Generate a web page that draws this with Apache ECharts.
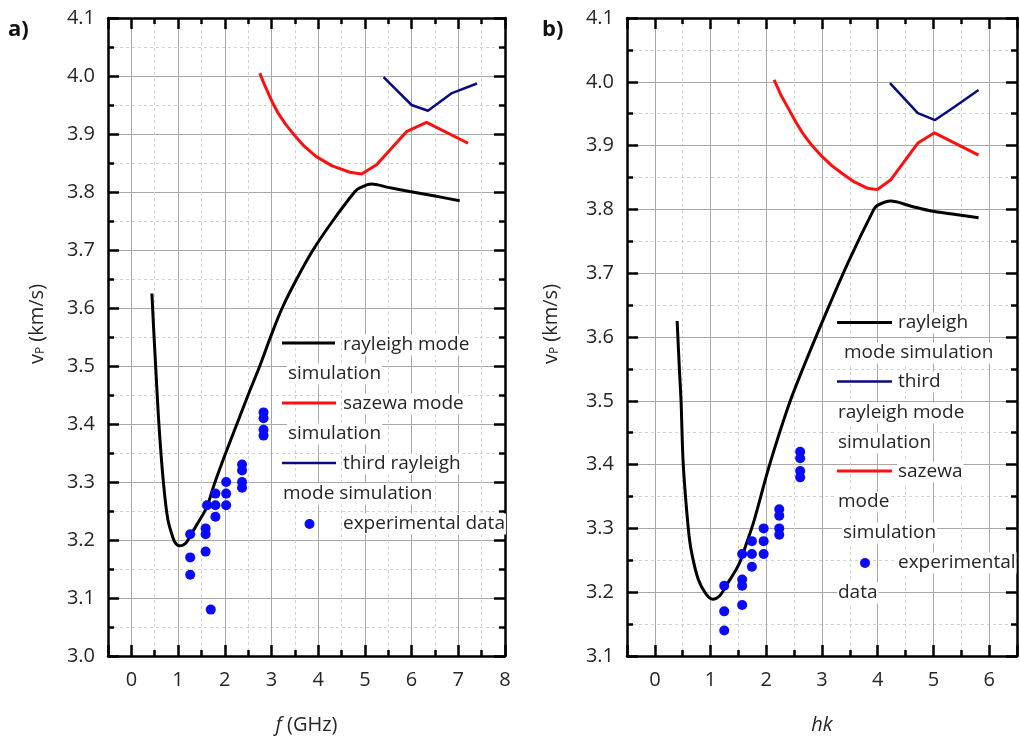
<!DOCTYPE html>
<html><head><meta charset="utf-8">
<script src="https://cdn.jsdelivr.net/npm/echarts@6/dist/echarts.min.js"></script>
<style>html,body{margin:0;padding:0;background:#fff}#c{width:1020px;height:740px}</style>
</head><body><div id="c"></div>
<script>
// ---------- Panel a (x = f in GHz) ----------
const rayA_f = [0.44, 0.48, 0.52, 0.59, 0.68, 0.78, 0.89, 0.96, 1.03, 1.10, 1.18, 1.28, 1.43, 1.61, 1.77, 2.02, 2.26, 2.50, 2.75, 2.98, 3.23, 3.54, 3.89, 4.31, 4.78, 4.89, 5.14, 5.50, 5.96, 6.50, 7.03];
const rayA_v = [3.625, 3.56, 3.50, 3.40, 3.305, 3.236, 3.204, 3.193, 3.190, 3.191, 3.196, 3.210, 3.230, 3.256, 3.295, 3.35, 3.40, 3.45, 3.50, 3.55, 3.60, 3.65, 3.70, 3.75, 3.80, 3.807, 3.814, 3.808, 3.801, 3.793, 3.785];
const sazA_f = [2.75, 2.85, 2.95, 3.03, 3.15, 3.30, 3.46, 3.70, 3.96, 4.30, 4.68, 4.93, 5.25, 5.89, 6.32, 7.21];
const sazA_v = [4.005, 3.985, 3.967, 3.953, 3.935, 3.917, 3.901, 3.879, 3.861, 3.845, 3.834, 3.831, 3.847, 3.904, 3.920, 3.884];
const thrA_f = [5.40, 6.00, 6.35, 6.85, 7.40];
const thrA_v = [3.998, 3.950, 3.940, 3.970, 3.987];
const expA_f = [1.26, 1.26, 1.26, 1.59, 1.59, 1.59, 1.62, 1.70, 1.80, 1.80, 1.80, 2.03, 2.03, 2.03, 2.37, 2.37, 2.37, 2.37, 2.83, 2.83, 2.83, 2.83];
const expA_v = [3.21, 3.17, 3.14, 3.22, 3.21, 3.18, 3.26, 3.08, 3.28, 3.26, 3.24, 3.30, 3.28, 3.26, 3.33, 3.32, 3.30, 3.29, 3.42, 3.41, 3.39, 3.38];

// ---------- Panel b (x = hk) ----------
const rayB_hk = [0.40, 0.44, 0.47, 0.51, 0.60, 0.66, 0.78, 0.92, 1.04, 1.16, 1.30, 1.51, 1.65, 1.77, 2.06, 2.39, 2.65, 3.06, 3.47, 3.93, 3.99, 4.23, 4.60, 4.99, 5.40, 5.81];
const rayB_v = [3.625, 3.55, 3.50, 3.40, 3.30, 3.262, 3.220, 3.197, 3.189, 3.194, 3.213, 3.244, 3.278, 3.309, 3.40, 3.49, 3.549, 3.635, 3.717, 3.80, 3.806, 3.813, 3.805, 3.797, 3.792, 3.787];
const sazB_hk = [2.14, 2.27, 2.41, 2.53, 2.65, 2.82, 3.00, 3.17, 3.35, 3.58, 3.82, 3.99, 4.23, 4.72, 5.02, 5.81];
const sazB_v = [4.003, 3.978, 3.956, 3.937, 3.920, 3.900, 3.883, 3.869, 3.857, 3.843, 3.833, 3.831, 3.846, 3.904, 3.920, 3.885];
const thrB_hk = [4.22, 4.72, 5.03, 5.40, 5.81];
const thrB_v = [3.998, 3.951, 3.940, 3.962, 3.987];
const expB_hk = [1.245, 1.245, 1.245, 1.567, 1.567, 1.567, 1.567, 1.742, 1.742, 1.742, 1.953, 1.953, 1.953, 2.233, 2.233, 2.233, 2.233, 2.608, 2.608, 2.608, 2.608];
const expB_v = [3.21, 3.17, 3.14, 3.26, 3.22, 3.21, 3.18, 3.28, 3.26, 3.24, 3.30, 3.28, 3.26, 3.33, 3.32, 3.30, 3.29, 3.42, 3.41, 3.39, 3.38];

// legend / titles text
const legendA = ['rayleigh mode', 'simulation', 'sazewa mode', 'simulation', 'third rayleigh', 'mode simulation', 'experimental data'];
const legendB = ['rayleigh', 'mode simulation', 'third', 'rayleigh mode', 'simulation', 'sazewa', 'mode', 'simulation', 'experimental', 'data'];

const FONT = "'Open Sans', 'Noto Sans', sans-serif";
const BLACK = '#000000', RED = '#ff1010', NAVY = '#0a0a85', BLUE = '#0a0aff';
const GRIDC = '#a8a8a8', MINORC = '#d2d2d2';
const TXT = '#262626';

function pairs(xs, ys) { return xs.map((x, i) => [x, ys[i]]); }
function tk() { return { color: '#000', width: 2.5 }; }

function xAxes(gi, min, max, name) {
  return [
    { type: 'value', gridIndex: gi, position: 'bottom', min: min, max: max, interval: 0.5,
      axisLine: { show: false, onZero: false },
      axisTick: { show: true, inside: true, length: 6, lineStyle: tk() },
      axisLabel: { show: false },
      splitLine: { show: true, lineStyle: { color: MINORC, width: 1, type: [3, 3] } } },
    { type: 'value', gridIndex: gi, position: 'top', min: min, max: max, interval: 0.5,
      axisLine: { show: false, onZero: false },
      axisTick: { show: true, inside: true, length: 6, lineStyle: tk() },
      axisLabel: { show: false }, splitLine: { show: false } },
    { type: 'value', gridIndex: gi, position: 'bottom', min: min, max: max, minInterval: 1, maxInterval: 1, splitNumber: 8,
      axisLine: { show: true, onZero: false, lineStyle: tk() },
      axisTick: { show: true, inside: true, length: 11, lineStyle: tk() },
      axisLabel: { show: true, margin: 14, fontSize: 20, fontFamily: FONT, color: TXT,
        formatter: v => (Math.abs(v - Math.round(v)) < 1e-6 ? String(Math.round(v)) : '') },
      splitLine: { show: true, lineStyle: { color: GRIDC, width: 1 } },
      name: name, nameLocation: 'middle', nameGap: 59,
      nameTextStyle: { fontSize: 20, fontFamily: FONT, color: TXT, rich: { i: { fontStyle: 'italic', fontSize: 20, fontFamily: FONT, color: TXT } } } },
    { type: 'value', gridIndex: gi, position: 'top', min: min, max: max, minInterval: 1, maxInterval: 1, splitNumber: 8,
      axisLine: { show: true, onZero: false, lineStyle: tk() },
      axisTick: { show: true, inside: true, length: 11, lineStyle: tk() },
      axisLabel: { show: false }, splitLine: { show: false } }
  ];
}
function yAxes(gi, min, max) {
  return [
    { type: 'value', gridIndex: gi, position: 'left', min: min, max: max, interval: 0.1,
      axisLine: { show: true, onZero: false, lineStyle: tk() },
      axisTick: { show: true, inside: true, length: 11, lineStyle: tk() },
      minorTick: { show: true, splitNumber: 2, length: 6, lineStyle: tk() },
      axisLabel: { show: true, margin: 13, fontSize: 20, fontFamily: FONT, color: TXT, formatter: v => v.toFixed(1) },
      splitLine: { show: true, lineStyle: { color: GRIDC, width: 1 } },
      minorSplitLine: { show: true, lineStyle: { color: MINORC, width: 1, type: [3, 3] } } },
    { type: 'value', gridIndex: gi, position: 'right', min: min, max: max, interval: 0.1,
      axisLine: { show: true, onZero: false, lineStyle: tk() },
      axisTick: { show: true, inside: true, length: 11, lineStyle: tk() },
      minorTick: { show: true, splitNumber: 2, length: 6, lineStyle: tk() },
      axisLabel: { show: false }, splitLine: { show: false } }
  ];
}

function lineSeries(xi, yi, xs, ys, color, width, smooth) {
  return { type: 'line', xAxisIndex: xi, yAxisIndex: yi, data: pairs(xs, ys), symbol: 'none', showSymbol: false, smooth: smooth,
    lineStyle: { color: color, width: width }, itemStyle: { color: color }, z: 3 };
}
function scatterSeries(xi, yi, xs, ys) {
  return { type: 'scatter', xAxisIndex: xi, yAxisIndex: yi, data: pairs(xs, ys), symbol: 'circle', symbolSize: 10,
    itemStyle: { color: BLUE, opacity: 1 }, z: 4 };
}

function txt(s, x, y) {
  return { type: 'text', z: 20, x: x, y: y,
    style: { text: s, fill: TXT, font: "19px " + FONT, align: 'left', verticalAlign: 'middle', backgroundColor: '#fff', padding: [1, 1] } };
}
function lin(x1, x2, y, color, w) {
  return { type: 'line', z: 20, shape: { x1: x1, y1: y, x2: x2, y2: y }, style: { stroke: color, lineWidth: w } };
}
function dot(cx, cy) {
  return { type: 'circle', z: 20, shape: { cx: cx, cy: cy, r: 5 }, style: { fill: BLUE } };
}
function ytitle(x, y) {
  return { type: 'text', z: 20, x: x, y: y, rotation: Math.PI / 2,
    style: { text: '{v|v}{s|P}{n| (km/s)}', align: 'center', verticalAlign: 'middle', fill: TXT,
      rich: { v: { fontSize: 20, fontFamily: FONT, fill: TXT },
              s: { fontSize: 12, fontFamily: FONT, fill: TXT, verticalAlign: 'bottom' },
              n: { fontSize: 20, fontFamily: FONT, fill: TXT } } } };
}

const graphics = [
  { type: 'text', z: 20, x: 8, y: 30, style: { text: 'a)', font: "bold 22px " + FONT, fill: '#111', verticalAlign: 'middle' } },
  { type: 'text', z: 20, x: 542, y: 30, style: { text: 'b)', font: "bold 22px " + FONT, fill: '#111', verticalAlign: 'middle' } },
  ytitle(37, 324), ytitle(551, 324),
  lin(282, 335, 343, BLACK, 3), txt(legendA[0], 342, 345), txt(legendA[1], 287, 374),
  lin(282, 336, 403, RED, 3), txt(legendA[2], 342, 404), txt(legendA[3], 287, 434),
  lin(282, 336, 463, NAVY, 2.5), txt(legendA[4], 342, 464), txt(legendA[5], 282, 494),
  dot(309.5, 524), txt(legendA[6], 342, 524),
  lin(837, 892, 322.5, BLACK, 3), txt(legendB[0], 897, 323), txt(legendB[1], 843, 353),
  lin(837, 892, 381.5, NAVY, 2.5), txt(legendB[2], 897, 382), txt(legendB[3], 837, 413), txt(legendB[4], 837, 443),
  lin(837, 892, 471, RED, 3), txt(legendB[5], 897, 472), txt(legendB[6], 837, 502), txt(legendB[7], 842, 533),
  dot(865, 563), txt(legendB[8], 897, 563), txt(legendB[9], 837, 593)
];

const option = {
  animation: false,
  backgroundColor: '#fff',
  grid: [
    { left: 108, top: 18, width: 397, height: 639 },
    { left: 627, top: 18, width: 399, height: 639 }
  ],
  xAxis: [].concat(xAxes(0, -0.5, 8, '{i|f} (GHz)'), xAxes(1, -0.5, 6.5, '{i|hk}')),
  yAxis: [].concat(yAxes(0, 3.0, 4.1), yAxes(1, 3.1, 4.1)),
  series: [
    lineSeries(2, 0, rayA_f, rayA_v, BLACK, 3, 0.35),
    lineSeries(2, 0, sazA_f, sazA_v, RED, 3, false),
    lineSeries(2, 0, thrA_f, thrA_v, NAVY, 2.5, false),
    scatterSeries(2, 0, expA_f, expA_v),
    lineSeries(6, 2, rayB_hk, rayB_v, BLACK, 3, 0.35),
    lineSeries(6, 2, sazB_hk, sazB_v, RED, 3, false),
    lineSeries(6, 2, thrB_hk, thrB_v, NAVY, 2.5, false),
    scatterSeries(6, 2, expB_hk, expB_v)
  ],
  graphic: { elements: graphics }
};
const chart = echarts.init(document.getElementById('c'));
chart.setOption(option);
</script></body></html>
